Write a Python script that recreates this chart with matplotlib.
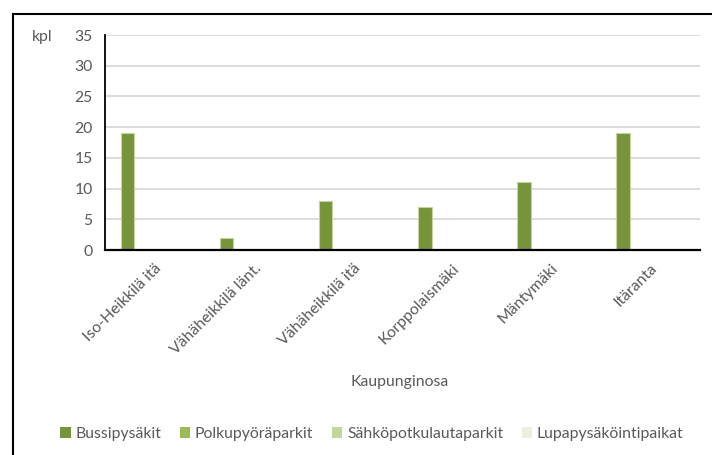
import numpy as np
import matplotlib
matplotlib.use("Agg")
from matplotlib import pyplot as plt
from matplotlib.lines import Line2D
from matplotlib.patches import Patch
from matplotlib.transforms import ScaledTranslation

plt.rcParams['font.family'] = ['Lato', 'DejaVu Sans']

# data
districts = ['Iso-Heikkilä itä', 'Vähäheikkilä länt.', 'Vähäheikkilä itä',
             'Korppolaismäki', 'Mäntymäki', 'Itäranta']
series_names = ['Bussipysäkit', 'Polkupyöräparkit', 'Sähköpotkulautaparkit',
                'Lupapysäköintipaikat']
bussi = [19, 2, 8, 7, 11, 19]
polkupyora = [0, 0, 0, 0, 0, 0]
sahkopotkulauta = [0, 0, 0, 0, 0, 0]
lupapysakointi = [0, 0, 0, 0, 0, 0]
colors = ['#77933c', '#9bbb59', '#c3d69b', '#ebf1de']

gray = '#595959'
fs = 11.3

fig = plt.figure(figsize=(7.12, 4.55), dpi=100)
ax = fig.add_axes([0.1475, 0.4505, 0.8355, 0.4725])

x = np.arange(len(districts))
step = 0.183
width = 0.137
all_series = [bussi, polkupyora, sahkopotkulauta, lupapysakointi]
for i, vals in enumerate(all_series):
    ax.bar(x + (i - 1.5) * step, vals, width, color=colors[i],
           edgecolor='#c3d69b' if i == 0 else colors[i], linewidth=0.8, zorder=3)

ax.set_xlim(-0.5, len(districts) - 0.5)
ax.set_ylim(0, 35)
ax.set_yticks(range(0, 36, 5))
ax.yaxis.grid(True, color='#d9d9d9', linewidth=1.3, zorder=0)
ax.set_axisbelow(True)

for side in ['top', 'right']:
    ax.spines[side].set_visible(False)
ax.spines['left'].set_color('black')
ax.spines['left'].set_linewidth(1.3)
ax.spines['bottom'].set_color('black')
ax.spines['bottom'].set_linewidth(1.6)
ax.spines['bottom'].set_zorder(4)

ax.tick_params(axis='both', length=0, labelsize=fs, labelcolor=gray)
ax.tick_params(axis='y', pad=9)
ax.set_xticks(x)
ax.set_xticklabels(districts, rotation=45, ha='right', va='top', rotation_mode='anchor')
ax.tick_params(axis='x', pad=8)
for lbl in ax.get_xticklabels():
    lbl.set_transform(lbl.get_transform() + ScaledTranslation(0.0, 0, fig.dpi_scale_trans))

fig.text(32 / 712, 1 - 37 / 455, 'kpl', fontsize=fs, color=gray, va='center', ha='left')
fig.text(400 / 712, 1 - 382 / 455, 'Kaupunginosa', fontsize=fs, color=gray,
         va='center', ha='center')

handles = [Patch(facecolor=c, edgecolor='none') for c in colors]
fig.legend(handles, series_names, loc='center', bbox_to_anchor=(372 / 712, 1 - 434 / 455),
           ncol=4, frameon=False, fontsize=fs, labelcolor=gray,
           handlelength=0.65, handleheight=0.65, handletextpad=0.3, columnspacing=1.2)

# outer chart border (only top and left edges visible in the crop)
fig.add_artist(Line2D([13 / 712, 13 / 712], [0, 1 - 14 / 455], color='black',
                      linewidth=1.5, transform=fig.transFigure))
fig.add_artist(Line2D([13 / 712, 1], [1 - 14 / 455, 1 - 14 / 455], color='black',
                      linewidth=1.5, transform=fig.transFigure))

fig.savefig('out.png', dpi=100)
